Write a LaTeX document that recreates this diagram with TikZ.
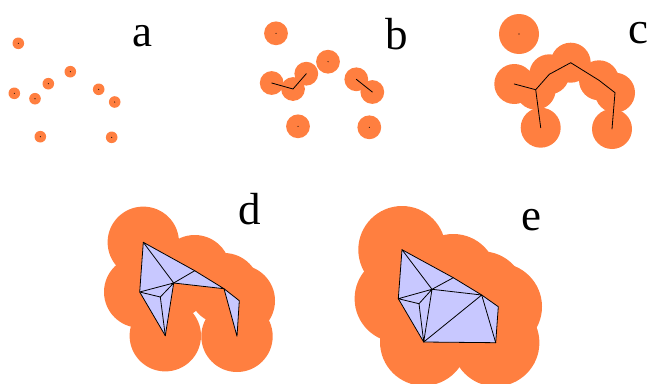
\documentclass[tikz,border=0pt]{standalone}
\usepackage{fontspec}
\setmainfont{Liberation Serif}
\definecolor{blob}{RGB}{255,127,64}
\definecolor{tri}{RGB}{200,200,255}
\tikzset{
  panel/.style={font=\fontsize{45}{45}\selectfont,anchor=base,inner sep=0pt,text=black},
  edge/.style={draw=black,line width=0.8pt,line join=round,line cap=round},
  mesh/.style={fill=tri,draw=black,line width=0.8pt,line join=round},
  seed/.style={fill=black}
}
\begin{document}
\begin{tikzpicture}[x=1pt,y=-1pt]
\useasboundingbox (0,0) rectangle (648,383);
% panel a
\foreach \n/\x/\y in {1/18.3/43.3,2/70.3/71.7,3/48.3/83.7,4/14.3/93.3,5/35/98.7,6/98.7/89.3,7/114.7/102,8/40.3/136.7,9/111.7/137.3}
  {\coordinate (a\n) at (\x,\y);
   \fill[blob] (a\n) circle (5.8);
   \fill[seed] (a\n) circle (0.55);}
\node[panel] (la) at (142,46.5) {a};
% panel b
\foreach \n/\x/\y in {1/276/33.3,2/328/61.7,3/306.3/73.7,4/271.7/83,5/293/89,6/356.3/79.3,7/372.3/92,8/298/126.3,9/369.3/127.3}
  {\coordinate (b\n) at (\x,\y);
   \fill[blob] (b\n) circle (11.9);}
\foreach \n in {1,2,8,9} {\fill[seed] (b\n) circle (0.55);}
\draw[edge] (b4) -- (b5) -- (b3);
\draw[edge] (b6) -- (b7);
\node[panel] (lb) at (397,49.5) {b};
% panel c
\foreach \n/\x/\y in {1/519/34,2/570.7/62.7,3/549.3/74.3,4/514.3/84,5/535.7/89.7,6/599/80.3,7/615/92.7,8/540.7/127.7,9/612/129}
  {\coordinate (c\n) at (\x,\y);
   \fill[blob] (c\n) circle (20);}
\fill[seed] (c1) circle (0.55);
\draw[edge] (c4) -- (c5) -- (c8);
\draw[edge] (c5) -- (c3) -- (c2) -- (c6) -- (c7) -- (c9);
\node[panel] (lc) at (638,43) {c};
% panel d
\foreach \n/\x/\y in {1/143.3/242.3,2/194.7/270.7,3/173.7/283,4/139.7/292,5/160.3/297,6/224/288.7,7/239.3/300.7,8/165.3/335.7,9/237/336.3}
  {\coordinate (d\n) at (\x,\y);
   \fill[blob] (d\n) circle (35.7);}
\draw[mesh] (d1) -- (d2) -- (d6) -- (d3) -- (d8) -- (d4) -- cycle;
\draw[mesh] (d6) -- (d7) -- (d9) -- cycle;
\draw[edge] (d1) -- (d3) (d2) -- (d3) (d4) -- (d3) (d4) -- (d5) (d3) -- (d5) (d5) -- (d8);
\node[panel] (ld) at (250,224) {d};
% panel e
\foreach \n/\x/\y in {1/402/249.7,2/453.3/277.7,3/432/289.3,4/398.3/298.7,5/419/303.7,6/481.7/295,7/498.3/306.7,8/423.7/342,9/495.7/342.7}
  {\coordinate (e\n) at (\x,\y);
   \fill[blob] (e\n) circle (43.7);}
\draw[mesh] (e1) -- (e2) -- (e6) -- (e7) -- (e9) -- (e8) -- (e4) -- cycle;
\draw[edge] (e1) -- (e3) (e2) -- (e3) (e3) -- (e6) (e4) -- (e3) (e4) -- (e5) (e3) -- (e5) (e5) -- (e8) (e3) -- (e8) (e6) -- (e8) (e6) -- (e9);
\node[panel] (le) at (531,230.5) {e};
\end{tikzpicture}
\end{document}
